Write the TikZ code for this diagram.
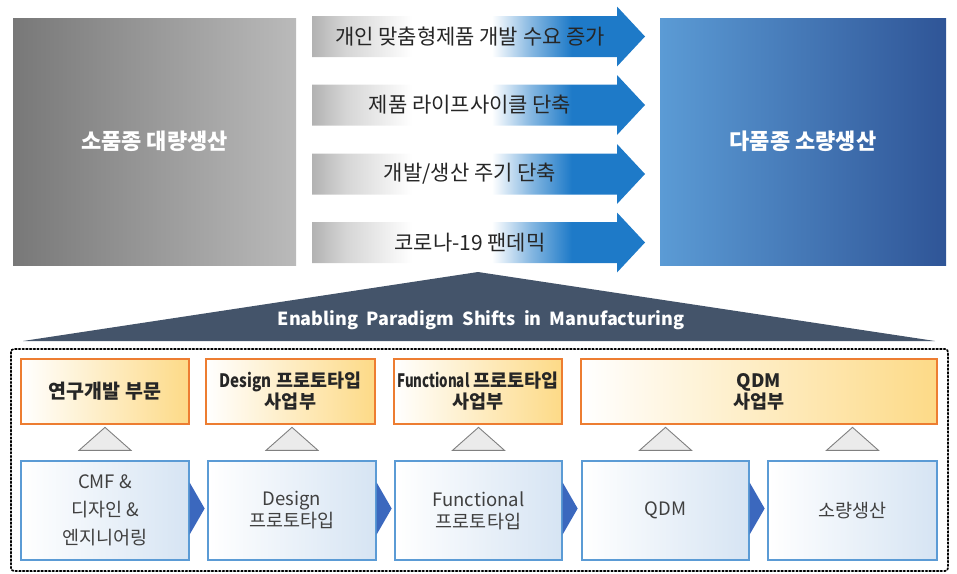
\documentclass[tikz,border=0pt]{standalone}
\usepackage{fontspec}
\setmainfont{Noto Sans CJK KR}
\usetikzlibrary{calc}
\definecolor{gL}{RGB}{120,120,120}
\definecolor{gR}{RGB}{186,186,186}
\definecolor{bL}{RGB}{91,155,213}
\definecolor{bR}{RGB}{47,85,151}
\definecolor{arrBlue}{RGB}{30,122,200}
\definecolor{arrGrey}{RGB}{178,178,178}
\definecolor{navy}{RGB}{68,84,106}
\definecolor{orBorder}{RGB}{237,125,49}
\definecolor{orFill}{RGB}{253,218,135}
\definecolor{blBorder}{RGB}{91,155,213}
\definecolor{blFill}{RGB}{214,228,243}
\definecolor{chev}{RGB}{59,104,190}
\definecolor{txtDark}{RGB}{38,38,38}
\definecolor{txtGrey}{RGB}{64,64,64}
\pgfdeclarehorizontalshading{arrsh}{100bp}{color(0bp)=(arrGrey); color(25bp)=(arrGrey); color(30bp)=(arrGrey!55); color(40bp)=(white); color(52bp)=(white); color(58bp)=(arrBlue!55); color(64bp)=(arrBlue); color(100bp)=(arrBlue)}
\tikzset{
  bigbox/.style={rectangle, inner sep=0pt, text=white, font=\fontsize{22}{26}\selectfont\bfseries, shading=axis},
  arrowshape/.style={shading=arrsh},
  arrtext/.style={inner sep=0pt, text=txtDark, font=\fontsize{21}{24}\selectfont},
  orbox/.style={rectangle, draw=orBorder, line width=1.5pt, left color=white, right color=orFill, minimum height=65pt, inner sep=0pt, align=center, text=txtDark, font=\fontsize{18.5}{21}\selectfont\bfseries},
  blbox/.style={rectangle, draw=blBorder, line width=1.3pt, left color=white, right color=blFill, minimum height=99pt, inner sep=0pt, align=center, text=txtGrey, font=\fontsize{18.5}{28}\selectfont},
  uptri/.style={fill=black!8, draw=black!50, line width=0.9pt},
  chevshape/.style={fill=chev},
}
\begin{document}
\begin{tikzpicture}[x=1pt,y=-1pt]
\useasboundingbox (0,0) rectangle (957,573);

% big boxes
\node[bigbox, left color=gL, right color=gR, minimum width=283pt, minimum height=247pt] (lo) at (154.5,141.5) {소품종 대량생산};
\node[bigbox, left color=bL, right color=bR, minimum width=286pt, minimum height=247pt] (hi) at (803,141.5) {다품종 소량생산};

% arrows
\foreach \c/\t [count=\i] in {36.5/{개인 맞춤형제품 개발 수요 증가}, 105/{제품 라이프사이클 단축}, 174/{개발/생산 주기 단축}, 242.5/{코로나-19 팬데믹}}{
  \path[arrowshape] (312,\c-20.5) -- (617,\c-20.5) -- (617,\c-30) -- (645,\c) -- (617,\c+30) -- (617,\c+20.5) -- (312,\c+20.5) -- cycle;
  \node[arrtext] (a\i) at (470,\c) {\t};
}

% paradigm triangle
\fill[navy] (23,341) -- (478,272) -- (935,341) -- cycle;
\node[inner sep=0pt, text=white, font=\fontsize{18}{20}\selectfont\bfseries] (eps) at (481,320) {Enabling\ \ Paradigm\ \ Shifts\ \ in\ \ Manufacturing};

% dotted frame
\draw[dotted, line width=1.7pt, line cap=round, rounded corners=3pt] (11,349) rectangle (948,571);

% orange boxes
\node[orbox, minimum width=168pt, font=\fontsize{19.5}{22}\selectfont\bfseries] (o1) at (105,391.5) {연구개발 부문};
\node[orbox, minimum width=169pt] (o2) at (290.5,391.5) {{\addfontfeatures{FakeStretch=0.82}Design} 프로토타입\\사업부};
\node[orbox, minimum width=168pt] (o3) at (478,391.5) {{\addfontfeatures{FakeStretch=0.72}Functional} 프로토타입\\사업부};
\node[orbox, minimum width=356pt] (o4) at (759,391.5) {QDM\\사업부};

% blue boxes
\node[blbox, minimum width=168pt] (b1) at (105,510.5) {CMF \&\\디자인 \&\\엔지니어링};
\node[blbox, minimum width=168pt, font=\fontsize{18.5}{22}\selectfont] (b2) at (292,510.5) {Design\\프로토타입};
\node[blbox, minimum width=167pt, font=\fontsize{18.5}{22}\selectfont] (b3) at (478.5,510.5) {Functional\\프로토타입};
\node[blbox, minimum width=167pt] (b4) at (665.5,510.5) {QDM};
\node[blbox, minimum width=169pt] (b5) at (852.5,510.5) {소량생산};

% up triangles
\foreach \b in {b1,b2,b3,b4,b5}{
  \draw[uptri] ($(\b.north)+(-26,-10)$) -- ($(\b.north)+(0,-33)$) -- ($(\b.north)+(26,-10)$) -- cycle;
}

% chevrons
\foreach \b in {b1,b2,b3,b4}{
  \fill[chevshape] ($(\b.east)+(0,-28)$) -- ($(\b.east)+(15,-2)$) -- ($(\b.east)+(0,24)$) -- cycle;
}
\end{tikzpicture}
\end{document}
